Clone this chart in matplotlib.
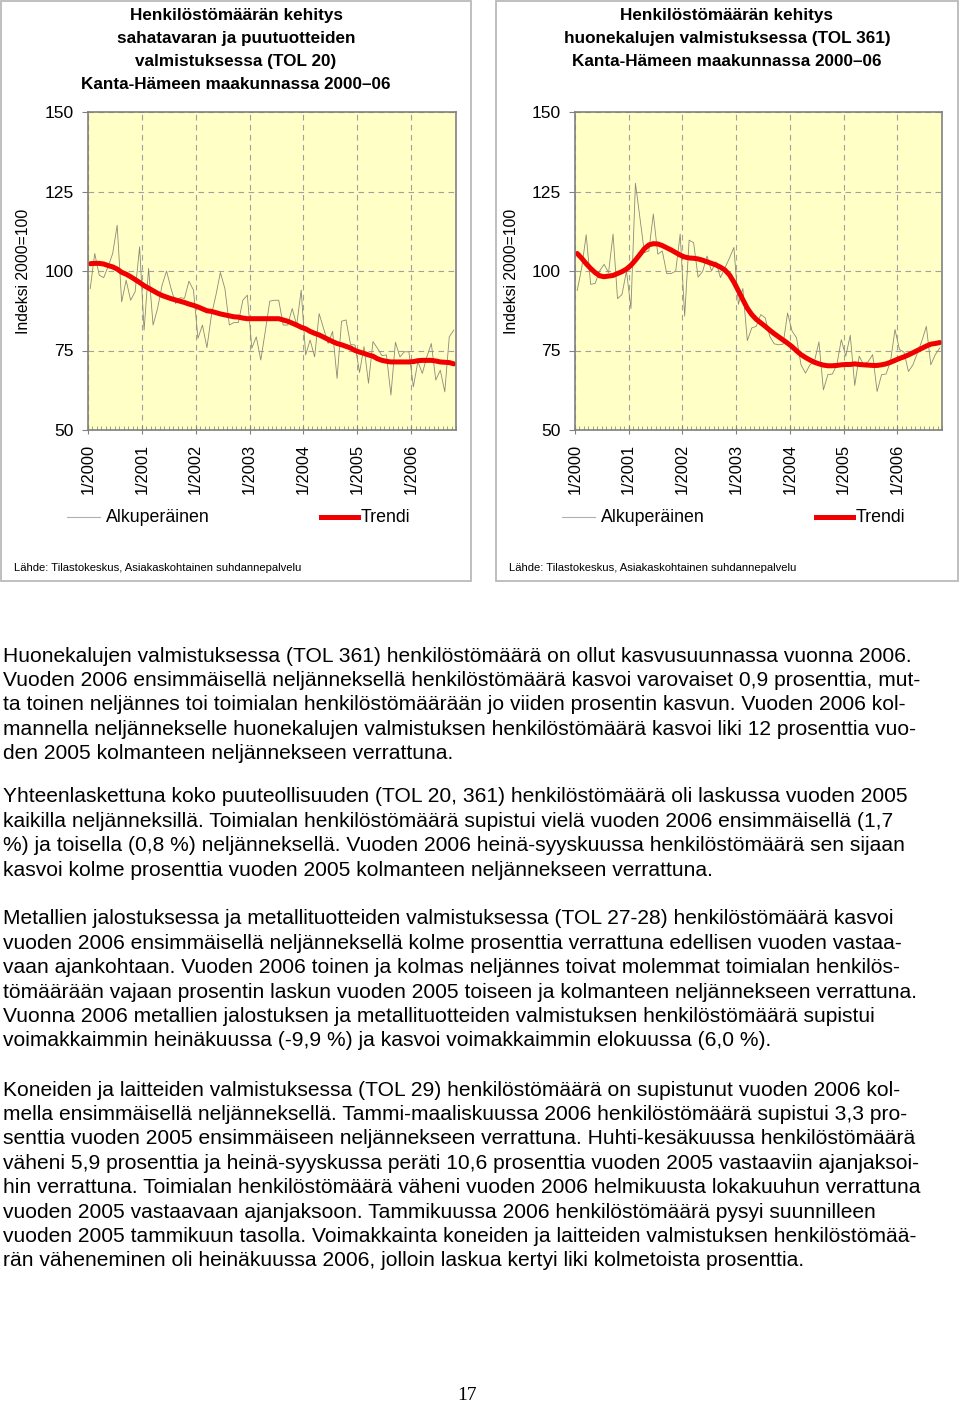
import matplotlib.pyplot as plt
from matplotlib.patches import Rectangle
from matplotlib.lines import Line2D
from matplotlib.ticker import MultipleLocator

plt.rcParams['font.family'] = ['Liberation Sans', 'DejaVu Sans']

W, H = 960, 1405

# monthly index numbers 1/2000 - 10/2006 (2000=100)
months = list(range(82))
year_ticks = [0, 12, 24, 36, 48, 60, 72]
year_labels = ['1/2000', '1/2001', '1/2002', '1/2003', '1/2004', '1/2005', '1/2006']

tol20_orig = [94.5, 105.5, 98.7, 97.9, 101.5, 105.5, 114.4, 90.3, 97.1, 90.8,
              93.5, 107.6, 81.4, 100.8, 83.0, 88.2, 95.5, 100.0, 94.5, 89.8,
              91.6, 91.4, 96.8, 94.0, 78.8, 83.0, 75.9, 86.1, 92.4, 99.5,
              94.5, 83.0, 83.8, 83.8, 90.8, 92.4, 75.7, 79.3, 72.0, 81.0,
              90.5, 90.8, 90.8, 83.0, 83.0, 88.2, 83.0, 94.0, 73.6, 78.3,
              73.0, 86.6, 81.9, 77.2, 81.0, 66.2, 84.2, 84.6, 76.9, 76.7,
              68.1, 76.2, 64.7, 77.8, 75.7, 73.4, 73.6, 61.0, 77.6, 73.0,
              74.6, 74.6, 63.6, 71.5, 67.8, 73.0, 77.2, 65.7, 68.8, 62.0,
              79.3, 81.4]
tol20_trend = [102.3, 102.4, 102.4, 102.2, 101.7, 101.3, 100.6, 99.6, 99.0, 98.2,
               97.3, 96.4, 95.4, 94.6, 93.8, 93.0, 92.3, 91.8, 91.3, 90.9,
               90.5, 90.1, 89.6, 89.2, 88.7, 88.1, 87.5, 87.3, 86.9, 86.5,
               86.2, 85.9, 85.6, 85.5, 85.2, 85.0, 85.0, 85.0, 85.0, 85.0,
               85.0, 85.0, 85.0, 84.6, 84.2, 83.6, 83.0, 82.3, 81.8, 81.0,
               80.4, 79.9, 79.2, 78.5, 77.8, 77.2, 76.8, 76.3, 75.8, 75.0,
               74.5, 74.1, 73.6, 73.2, 72.4, 71.9, 71.6, 71.4, 71.4, 71.4,
               71.4, 71.4, 71.5, 71.8, 71.9, 71.9, 71.9, 71.7, 71.4, 71.3,
               71.2, 70.8]

tol361_orig = [93.9, 101.0, 111.4, 95.8, 96.1, 100.0, 102.1, 99.5, 111.6, 91.3,
               92.6, 100.0, 88.2, 127.6, 116.8, 105.8, 106.3, 117.9, 105.3, 106.3,
               99.2, 99.2, 100.0, 111.6, 85.8, 109.7, 108.9, 98.1, 99.8, 104.7,
               100.0, 102.9, 97.9, 101.0, 104.0, 107.4, 89.5, 94.5, 78.1, 82.1,
               82.6, 86.3, 85.3, 79.5, 77.1, 76.8, 77.0, 86.8, 81.1, 79.0,
               70.5, 67.9, 70.5, 71.6, 77.7, 62.6, 67.4, 67.6, 70.5, 78.4,
               73.2, 79.8, 64.0, 73.2, 70.5, 71.5, 73.7, 62.1, 67.4, 67.6,
               71.6, 81.6, 75.3, 74.5, 68.4, 70.5, 74.2, 78.0, 82.6, 70.5,
               73.7, 75.8]
tol361_trend = [105.5, 104.0, 102.3, 100.8, 99.5, 98.5, 98.2, 98.4, 98.6, 99.2,
                99.8, 100.6, 101.8, 103.4, 105.2, 107.0, 108.2, 108.6, 108.5, 108.0,
                107.3, 106.6, 105.8, 105.0, 104.4, 104.1, 104.0, 103.8, 103.4, 102.9,
                102.4, 101.9, 101.2, 100.3, 98.8, 96.5, 93.8, 91.0, 88.3, 86.3,
                84.8, 83.7, 82.6, 81.4, 80.3, 79.3, 78.3, 77.3, 76.2, 74.9,
                73.7, 72.8, 72.0, 71.3, 70.8, 70.4, 70.2, 70.2, 70.3, 70.5,
                70.6, 70.6, 70.8, 70.6, 70.5, 70.4, 70.3, 70.3, 70.5, 70.8,
                71.3, 71.9, 72.5, 73.0, 73.6, 74.3, 75.0, 75.7, 76.4, 77.0,
                77.2, 77.5]

title_left = ['Henkilöstömäärän kehitys', 'sahatavaran ja puutuotteiden',
              'valmistuksessa (TOL 20)', 'Kanta-Hämeen maakunnassa 2000\u201306']
title_right = ['Henkilöstömäärän kehitys', 'huonekalujen valmistuksessa (TOL 361)',
               'Kanta-Hämeen maakunnassa 2000\u201306']
source = 'Lähde: Tilastokeskus, Asiakaskohtainen suhdannepalvelu'

paragraphs = [
    ['Huonekalujen valmistuksessa (TOL 361) henkilöstömäärä on ollut kasvusuunnassa vuonna 2006.',
     'Vuoden 2006 ensimmäisellä neljänneksellä henkilöstömäärä kasvoi varovaiset 0,9 prosenttia, mut-',
     'ta toinen neljännes toi toimialan henkilöstömäärään jo viiden prosentin kasvun. Vuoden 2006 kol-',
     'mannella neljännekselle huonekalujen valmistuksen henkilöstömäärä kasvoi liki 12 prosenttia vuo-',
     'den 2005 kolmanteen neljännekseen verrattuna.'],
    ['Yhteenlaskettuna koko puuteollisuuden (TOL 20, 361) henkilöstömäärä oli laskussa vuoden 2005',
     'kaikilla neljänneksillä. Toimialan henkilöstömäärä supistui vielä vuoden 2006 ensimmäisellä (1,7',
     '%) ja toisella (0,8 %) neljänneksellä. Vuoden 2006 heinä-syyskuussa henkilöstömäärä sen sijaan',
     'kasvoi kolme prosenttia vuoden 2005 kolmanteen neljännekseen verrattuna.'],
    ['Metallien jalostuksessa ja metallituotteiden valmistuksessa (TOL 27-28) henkilöstömäärä kasvoi',
     'vuoden 2006 ensimmäisellä neljänneksellä kolme prosenttia verrattuna edellisen vuoden vastaa-',
     'vaan ajankohtaan. Vuoden 2006 toinen ja kolmas neljännes toivat molemmat toimialan henkilös-',
     'tömäärään vajaan prosentin laskun vuoden 2005 toiseen ja kolmanteen neljännekseen verrattuna.',
     'Vuonna 2006 metallien jalostuksen ja metallituotteiden valmistuksen henkilöstömäärä supistui',
     'voimakkaimmin heinäkuussa (-9,9 %) ja kasvoi voimakkaimmin elokuussa (6,0 %).'],
    ['Koneiden ja laitteiden valmistuksessa (TOL 29) henkilöstömäärä on supistunut vuoden 2006 kol-',
     'mella ensimmäisellä neljänneksellä. Tammi-maaliskuussa 2006 henkilöstömäärä supistui 3,3 pro-',
     'senttia vuoden 2005 ensimmäiseen neljännekseen verrattuna. Huhti-kesäkuussa henkilöstömäärä',
     'väheni 5,9 prosenttia ja heinä-syyskussa peräti 10,6 prosenttia vuoden 2005 vastaaviin ajanjaksoi-',
     'hin verrattuna. Toimialan henkilöstömäärä väheni vuoden 2006 helmikuusta lokakuuhun verrattuna',
     'vuoden 2005 vastaavaan ajanjaksoon. Tammikuussa 2006 henkilöstömäärä pysyi suunnilleen',
     'vuoden 2005 tammikuun tasolla. Voimakkainta koneiden ja laitteiden valmistuksen henkilöstömää-',
     'rän väheneminen oli heinäkuussa 2006, jolloin laskua kertyi liki kolmetoista prosenttia.'],
]
paragraph_tops = [656, 797, 919, 1090]

fig = plt.figure(figsize=(9.6, 14.05), dpi=100)


def fx(px):
    return px / W


def fy(py):
    return 1 - py / H


def draw_panel(box, plot, title, orig, trend):
    bx0, by0, bx1, by1 = box
    fig.add_artist(Rectangle((fx(bx0), fy(by1)), fx(bx1 - bx0), (by1 - by0) / H,
                             transform=fig.transFigure, fill=False,
                             edgecolor='#b4b4b4', lw=1.2))
    cx = (bx0 + bx1) / 2
    for i, line in enumerate(title):
        fig.text(fx(cx), fy(15.5 + 23 * i), line, ha='center', va='center',
                 fontsize=12.3, weight='bold')

    x0, y0, x1, y1 = plot
    ax = fig.add_axes([fx(x0), fy(y1), fx(x1 - x0), (y1 - y0) / H])
    ax.set_facecolor('#ffffc6')
    x = [m + 0.5 for m in months]
    ax.plot(x, orig, color='#8a8a7a', lw=0.6)
    ax.plot(x, trend, color='#f00000', lw=3.6, solid_capstyle='round')
    ax.set_xlim(0, 82)
    ax.set_ylim(50, 150)
    ax.set_yticks([50, 75, 100, 125, 150])
    ax.set_xticks(year_ticks)
    ax.set_xticklabels(year_labels, rotation=90)
    ax.xaxis.set_minor_locator(MultipleLocator(1))
    ax.tick_params(axis='y', length=4, pad=6, labelsize=12.6, color='#808080')
    ax.tick_params(axis='x', which='major', direction='inout', length=6,
                   pad=7, labelsize=11.8, color='#808080')
    ax.tick_params(axis='x', which='minor', direction='in', length=3,
                   color='#909080', width=0.6)
    ax.grid(True, which='major', ls=(0, (5, 4)), color='#a0a0a0', lw=0.8)
    for s in ax.spines.values():
        s.set_color('#808080')
        s.set_linewidth(1.2)
    ax.set_axisbelow(True)

    fig.text(fx(x0 - 64), fy((y0 + y1) / 2), 'Indeksi 2000=100', rotation=90,
             ha='center', va='center', fontsize=11.3)

    # legend
    fig.add_artist(Line2D([fx(bx0 + 66), fx(bx0 + 99)], [fy(517), fy(517)],
                          transform=fig.transFigure, color='#b0b0b0', lw=0.8))
    fig.text(fx(bx0 + 105), fy(517.5), 'Alkuperäinen', va='center', fontsize=12.8)
    fig.add_artist(Line2D([fx(bx0 + 320), fx(bx0 + 357)], [fy(517), fy(517)],
                          transform=fig.transFigure, color='#f00000', lw=3.6))
    fig.text(fx(bx0 + 360), fy(517.5), 'Trendi', va='center', fontsize=12.8)

    fig.text(fx(bx0 + 13), fy(568), source, va='center', fontsize=8.1)


draw_panel((1, 1, 471, 581), (88, 112, 456, 430), title_left, tol20_orig, tol20_trend)
draw_panel((496, 1, 958, 581), (575, 112, 942, 430), title_right, tol361_orig, tol361_trend)

for top, lines in zip(paragraph_tops, paragraphs):
    for i, line in enumerate(lines):
        fig.text(fx(3), fy(top + 24.4 * i), line, va='center', fontsize=15.1)

fig.text(fx(467), fy(1395), '17', ha='center', va='center', fontsize=14,
         family='Liberation Serif')

fig.savefig('out.png', dpi=100)
